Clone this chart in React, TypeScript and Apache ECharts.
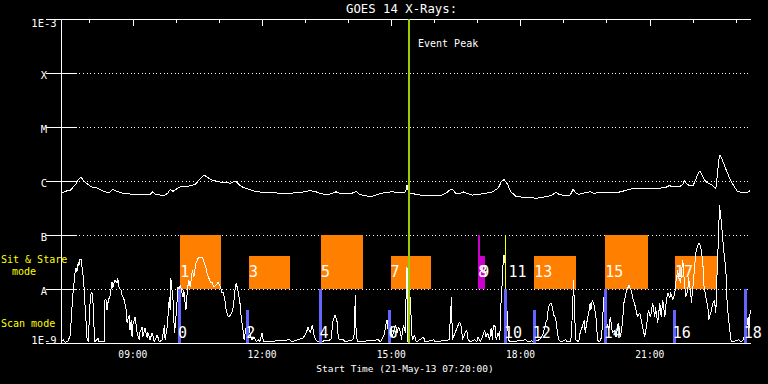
import React, { useEffect, useRef } from 'react';
import * as echarts from 'echarts';

// x values: minutes after the start time 21-May-13 07:20:00
// y values: log10 of the X-ray level (-9 = 1E-9 ... -3 = 1E-3)
const START_CLOCK_MIN = 7 * 60 + 20;
const X_MAX = 961;
const yLevels = [-9, -8, -7, -6, -5, -4, -3];
const yLevelNames = ['1E-9', 'A', 'B', 'C', 'M', 'X', '1E-3'];
const hourTicks = [40, 100, 160, 220, 280, 340, 400, 460, 520, 580, 640, 700, 760, 820, 880, 940];
const majorHourTicks = [100, 280, 460, 640, 820];
const eventPeak = 485;

const goesFlux: [number, number][] = [
  [0, -6.23], [6, -6.19], [13, -6.17], [20, -6.07], [24, -5.98], [28, -5.93], [32, -6.0], [38, -6.07],
  [43, -6.11], [50, -6.13], [56, -6.17], [61, -6.2], [67, -6.22], [71, -6.17], [72, -6.15], [77, -6.19],
  [82, -6.21], [89, -6.24], [96, -6.24], [103, -6.26], [110, -6.25], [117, -6.24], [124, -6.25], [128, -6.2],
  [132, -6.25], [138, -6.26], [145, -6.26], [149, -6.22], [152, -6.16], [156, -6.19], [162, -6.14], [166, -6.11],
  [173, -6.1], [180, -6.09], [187, -6.06], [194, -5.96], [199, -5.89], [205, -5.94], [210, -5.98], [216, -6.0],
  [222, -6.02], [229, -6.03], [236, -6.04], [243, -6.0], [248, -6.07], [254, -6.12], [261, -6.15], [272, -6.2],
  [284, -6.21], [298, -6.22], [312, -6.23], [326, -6.22], [333, -6.22], [340, -6.19], [348, -6.18], [355, -6.2],
  [361, -6.23], [368, -6.25], [375, -6.24], [381, -6.21], [383, -6.2], [388, -6.23], [396, -6.24], [403, -6.23],
  [407, -6.22], [411, -6.19], [415, -6.24], [422, -6.27], [431, -6.29], [439, -6.26], [446, -6.23], [454, -6.21],
  [461, -6.2], [468, -6.21], [475, -6.22], [480, -6.2], [482, -6.07], [484, -6.22], [492, -6.24], [500, -6.26],
  [512, -6.27], [521, -6.27], [531, -6.26], [537, -6.22], [541, -6.17], [545, -6.15], [549, -6.22], [553, -6.24],
  [558, -6.22], [560, -6.2], [565, -6.23], [573, -6.26], [581, -6.25], [591, -6.23], [601, -6.2], [609, -6.13],
  [613, -6.02], [617, -5.97], [622, -6.06], [626, -6.19], [633, -6.28], [643, -6.3], [654, -6.3], [661, -6.32],
  [668, -6.31], [675, -6.29], [682, -6.27], [686, -6.24], [690, -6.21], [694, -6.25], [701, -6.27], [708, -6.27],
  [711, -6.22], [713, -6.15], [717, -6.22], [721, -6.25], [726, -6.23], [732, -6.21], [737, -6.2], [743, -6.23],
  [749, -6.21], [756, -6.21], [763, -6.22], [769, -6.22], [776, -6.21], [782, -6.19], [788, -6.17], [793, -6.15],
  [800, -6.14], [807, -6.13], [814, -6.13], [821, -6.13], [828, -6.13], [835, -6.13], [842, -6.12], [845, -6.1],
  [848, -6.08], [850, -6.11], [856, -6.1], [862, -6.1], [866, -6.06], [868, -5.99], [871, -6.04], [875, -6.09],
  [880, -6.09], [884, -5.98], [887, -5.87], [890, -5.81], [892, -5.87], [896, -5.98], [901, -6.04], [906, -6.07],
  [912, -6.15], [914, -5.91], [916, -5.61], [918, -5.52], [921, -5.61], [926, -5.78], [930, -5.91], [934, -6.02],
  [938, -6.11], [942, -6.19], [947, -6.21], [954, -6.21], [958, -6.2], [960, -6.16],
];

const lowCurve: [number, number][] = [
  [0, -8.99], [3, -8.94], [6, -8.99], [10, -8.96], [13, -8.85], [15, -8.39], [17, -8.02], [20, -7.65],
  [21, -7.61], [22, -7.69], [24, -7.5], [25, -7.57], [26, -7.46], [28, -7.44], [29, -7.56], [31, -7.78],
  [32, -7.96], [33, -8.2], [35, -8.63], [36, -8.89], [38, -8.98], [39, -8.67], [40, -8.33], [42, -8.07],
  [43, -8.06], [45, -8.3], [46, -8.7], [47, -8.98], [52, -8.91], [53, -8.98], [60, -8.98], [61, -8.2],
  [63, -8.2], [64, -8.39], [66, -8.2], [68, -8.15], [71, -7.87], [72, -7.98], [75, -7.83], [78, -7.89],
  [79, -7.8], [81, -7.98], [84, -8.02], [85, -8.11], [88, -8.2], [91, -8.39], [92, -8.63], [95, -8.48],
  [96, -8.76], [98, -8.57], [99, -8.89], [100, -8.67], [103, -8.52], [105, -8.7], [106, -8.81], [109, -8.94],
  [110, -8.8], [113, -8.7], [114, -8.89], [117, -8.72], [120, -8.91], [121, -8.8], [124, -8.94], [127, -8.81],
  [130, -8.98], [134, -8.85], [137, -8.98], [141, -8.94], [144, -8.67], [145, -8.94], [148, -8.7], [151, -8.15],
  [152, -8.39], [153, -7.8], [156, -8.2], [158, -8.81], [159, -8.7], [160, -8.54], [163, -7.96], [164, -8.02],
  [166, -7.93], [167, -7.98], [170, -8.15], [171, -8.02], [174, -8.39], [176, -8.02], [178, -7.83], [180, -7.96],
  [183, -7.65], [185, -7.78], [188, -7.52], [191, -7.43], [194, -7.41], [197, -7.41], [199, -7.5], [202, -7.61],
  [204, -7.74], [206, -7.8], [209, -7.89], [210, -7.87], [213, -7.96], [216, -7.93], [219, -7.87], [222, -7.96],
  [224, -8.06], [226, -8.07], [229, -8.26], [230, -8.39], [233, -8.52], [236, -8.48], [238, -8.43], [240, -8.33],
  [243, -7.93], [244, -7.89], [247, -8.06], [250, -8.33], [251, -8.54], [254, -8.8], [255, -8.94], [258, -8.7],
  [261, -8.61], [263, -8.81], [266, -8.94], [269, -8.89], [272, -8.98], [275, -8.94], [277, -8.98], [280, -8.81],
  [282, -8.98], [319, -8.94], [321, -8.98], [337, -8.91], [342, -8.8], [344, -8.7], [347, -8.81], [350, -8.67],
  [353, -8.89], [355, -8.94], [358, -8.98], [376, -8.94], [379, -8.57], [382, -8.48], [385, -8.63], [386, -8.89],
  [388, -8.94], [393, -8.94], [396, -8.98], [406, -8.94], [408, -8.89], [410, -8.11], [411, -8.81], [413, -8.98],
  [442, -8.94], [445, -8.98], [450, -8.85], [452, -8.7], [454, -8.57], [456, -8.81], [457, -8.54], [460, -8.7],
  [461, -8.89], [466, -8.67], [468, -8.81], [470, -8.7], [473, -8.8], [474, -8.94], [477, -8.67], [480, -8.81],
  [481, -7.61], [482, -7.61], [483, -8.98], [485, -8.76], [487, -8.15], [488, -8.81], [490, -8.94], [492, -8.85],
  [495, -8.98], [505, -8.89], [507, -8.98], [519, -8.94], [521, -8.98], [541, -8.94], [542, -8.57], [544, -8.15],
  [545, -8.94], [555, -8.61], [558, -8.72], [559, -8.94], [563, -8.81], [565, -8.76], [567, -8.94], [570, -8.98],
  [576, -8.94], [579, -8.98], [581, -8.89], [584, -8.98], [588, -8.85], [590, -8.76], [592, -8.89], [594, -8.81],
  [597, -8.94], [598, -8.85], [599, -8.72], [601, -8.94], [602, -8.67], [605, -8.7], [606, -8.94], [609, -8.81],
  [611, -8.94], [613, -8.2], [615, -7.78], [616, -7.43], [617, -7.37], [619, -7.59], [620, -8.15], [622, -8.57],
  [623, -8.94], [626, -8.98], [647, -8.94], [650, -8.98], [655, -8.96], [658, -8.98], [666, -8.94], [669, -8.89],
  [672, -8.81], [675, -8.63], [677, -8.57], [679, -8.33], [682, -8.26], [683, -8.26], [685, -8.39], [686, -8.48],
  [689, -8.54], [691, -8.76], [693, -8.94], [696, -8.98], [703, -8.94], [705, -8.98], [710, -8.98], [712, -8.52],
  [714, -7.83], [715, -8.39], [717, -8.94], [721, -8.98], [723, -8.81], [726, -8.7], [729, -8.57], [730, -8.81],
  [733, -8.57], [735, -8.44], [737, -8.26], [738, -8.39], [740, -8.2], [743, -8.33], [746, -8.63], [747, -8.94],
  [750, -8.98], [753, -8.89], [756, -8.15], [760, -8.63], [763, -8.76], [765, -8.52], [768, -8.81], [771, -8.76],
  [773, -8.89], [776, -8.63], [779, -8.89], [782, -8.63], [784, -8.26], [787, -8.07], [790, -7.96], [791, -7.93],
  [794, -8.02], [797, -8.2], [800, -8.33], [803, -8.52], [806, -8.44], [809, -8.63], [811, -8.76], [813, -8.89],
  [816, -8.63], [818, -8.39], [821, -8.52], [824, -8.26], [827, -8.52], [828, -8.33], [831, -8.63], [834, -8.26],
  [836, -8.52], [838, -8.2], [841, -8.52], [842, -8.33], [845, -8.07], [848, -8.17], [849, -8.06], [852, -8.2],
  [855, -8.07], [856, -7.89], [859, -7.65], [860, -7.78], [863, -7.89], [864, -7.7], [866, -7.46], [868, -7.83],
  [870, -8.15], [873, -8.02], [874, -7.78], [877, -8.07], [878, -8.26], [881, -7.83], [884, -7.33], [887, -7.19],
  [889, -7.15], [891, -7.22], [894, -7.52], [895, -7.89], [898, -8.15], [901, -8.33], [902, -8.57], [905, -8.44],
  [908, -8.26], [910, -8.2], [912, -8.44], [913, -8.07], [914, -7.59], [916, -6.96], [917, -6.44], [919, -6.67],
  [921, -6.96], [923, -7.28], [926, -7.65], [927, -8.02], [928, -8.33], [931, -8.7], [933, -8.94], [934, -8.98],
  [944, -8.94], [947, -8.98], [950, -8.94], [954, -8.81], [957, -8.52], [958, -8.76], [960, -8.39],
];

// Sit & Stare pointings (orange)
const sitStareLabels = ['1', '3', '5', '7', '13', '15', '17'];
const sitStareStart = [166, 262, 362, 459, 659, 758, 855];
const sitStareEnd = [223, 319, 420, 516, 717, 817, 913];
const sitStareTop = [-7, -7.39, -7, -7.39, -7.39, -7, -7.39];

// Scan mode rasters (blue)
const scanLabels = ['0', '2', '4', '6', '10', '12', '14', '16', '18'];
const scanStart = [163, 258, 360, 456, 617, 657, 756, 852, 951];
const scanEnd = [167, 262, 363, 459, 621, 661, 760, 856, 956];
const scanTop = [-8, -8.39, -8, -8.39, -8, -8.39, -8, -8.39, -8];

// short magenta pointings
const magentaLabels = ['8', '9'];
const magentaStart = [581, 581];
const magentaLabelAt = [581, 584];
const magentaEnd = [584, 590];
const magentaTop = [-7, -7.39];

// zero-length sit & stare marker (yellow)
const markerLabels = ['11'];
const markerAt = [619];

const SIT_LABEL_LEVEL = -7.68;
const SCAN_LABEL_LEVEL = -8.81;
const BOX_BOTTOM = -8;
const SCAN_BOTTOM = -9;

const MONO = 'DejaVu Sans Mono';

function clock(m: number): string {
  const t = START_CLOCK_MIN + m;
  const h = Math.floor(t / 60);
  const mm = Math.round(t % 60);
  return String(h).padStart(2, '0') + ':' + String(mm).padStart(2, '0');
}

export default function App() {
  const ref = useRef<HTMLDivElement>(null);

  useEffect(() => {
    if (!ref.current) return;
    const chart = echarts.init(ref.current, null, { renderer: 'svg' });

    const boxSeries = (
      name: string,
      starts: number[],
      ends: number[],
      bottoms: number[],
      tops: number[],
      labels: string[],
      labelAt: number[],
      labelLevel: number,
      color: string,
      z: number
    ) => ({
      type: 'custom',
      name,
      xAxisIndex: 0,
      yAxisIndex: 0,
      z,
      clip: false,
      data: starts.map((s, i) => [s, ends[i], bottoms[i], tops[i]]),
      renderItem: (params: any, api: any) => {
        const i = params.dataIndex;
        const p0 = api.coord([api.value(0), api.value(2)]);
        const p1 = api.coord([api.value(1), api.value(3)]);
        const lp = api.coord([labelAt[i], labelLevel]);
        return {
          type: 'group',
          children: [
            {
              type: 'rect',
              shape: { x: p0[0], y: p1[1], width: p1[0] - p0[0], height: p0[1] - p1[1] },
              style: { fill: color },
            },
            {
              type: 'text',
              x: lp[0],
              y: lp[1],
              z2: 10,
              style: {
                text: labels[i],
                fill: '#ffffff',
                fontFamily: MONO,
                fontSize: 15,
                verticalAlign: 'middle',
                align: 'left',
              },
            },
          ],
        };
      },
    });

    const option: any = {
      animation: false,
      backgroundColor: '#000000',
      grid: { left: 61, right: 17, top: 19, bottom: 41 },
      xAxis: [
        {
          type: 'value',
          min: 0,
          max: X_MAX,
          position: 'bottom',
          axisLine: { show: true, lineStyle: { color: '#ffffff', width: 1 } },
          axisTick: { show: false },
          splitLine: { show: false },
          axisLabel: {
            show: true,
            customValues: majorHourTicks,
            formatter: (v: number) => clock(v),
            color: '#ffffff',
            fontFamily: MONO,
            fontSize: 9.6,
            margin: 6,
          },
        },
        {
          type: 'value',
          min: 0,
          max: X_MAX,
          position: 'top',
          axisLine: { show: true, lineStyle: { color: '#ffffff', width: 1 } },
          axisTick: {
            show: true,
            inside: true,
            length: 3.5,
            customValues: hourTicks,
            lineStyle: { color: '#ffffff', width: 1 },
          },
          axisLabel: { show: false },
          splitLine: { show: false },
        },
        {
          type: 'value',
          min: 0,
          max: X_MAX,
          position: 'top',
          axisLine: { show: false },
          axisTick: {
            show: true,
            inside: true,
            length: 6.5,
            customValues: majorHourTicks,
            lineStyle: { color: '#ffffff', width: 1 },
          },
          axisLabel: { show: false },
          splitLine: { show: false },
        },
      ],
      yAxis: [
        {
          type: 'value',
          min: -9,
          max: -3,
          interval: 1,
          position: 'left',
          axisLine: { show: true, lineStyle: { color: '#ffffff', width: 1 } },
          axisTick: { show: true, inside: true, length: 15, lineStyle: { color: '#ffffff', width: 1 } },
          splitLine: {
            show: true,
            lineStyle: { color: '#ffffff', width: 1, type: [1, 2.67] },
          },
          axisLabel: {
            show: true,
            align: 'center',
            margin: 17,
            color: '#ffffff',
            fontFamily: MONO,
            fontSize: 10.5,
            formatter: (v: number) => {
              const idx = yLevels.indexOf(Math.round(v));
              const name = idx >= 0 ? yLevelNames[idx] : '';
              if (Math.round(v) === -3) return '{t|' + name + '}';
              if (Math.round(v) === -9) return '{b|' + name + '}';
              return '{n|' + name + '}';
            },
            rich: {
              t: { color: '#ffffff', fontFamily: MONO, fontSize: 10.5, padding: [8, 0, 0, 0] },
              b: { color: '#ffffff', fontFamily: MONO, fontSize: 10.5, padding: [0, 0, 6, 0] },
              n: { color: '#ffffff', fontFamily: MONO, fontSize: 10.5, padding: [3, 0, 0, 0] },
            },
          },
        },
        {
          type: 'value',
          min: -9,
          max: -3,
          interval: 1,
          position: 'right',
          axisLine: { show: true, lineStyle: { color: '#ffffff', width: 1 } },
          axisTick: { show: true, inside: true, length: 15, lineStyle: { color: '#ffffff', width: 1 } },
          splitLine: { show: false },
          axisLabel: { show: false },
        },
      ],
      series: [
        boxSeries('Sit & Stare', sitStareStart, sitStareEnd, sitStareStart.map(() => BOX_BOTTOM), sitStareTop,
          sitStareLabels, sitStareStart, SIT_LABEL_LEVEL, '#ff8000', 2),
        boxSeries('Slew', magentaStart, magentaEnd, magentaStart.map(() => BOX_BOTTOM), magentaTop,
          magentaLabels, magentaLabelAt, SIT_LABEL_LEVEL, '#cc00cc', 2),
        {
          type: 'line',
          name: 'GOES flux',
          data: goesFlux,
          showSymbol: false,
          symbol: 'none',
          z: 4,
          lineStyle: { color: '#ffffff', width: 1 },
        },
        {
          type: 'line',
          name: 'Low',
          data: lowCurve,
          showSymbol: false,
          symbol: 'none',
          z: 4,
          lineStyle: { color: '#ffffff', width: 1 },
        },
        boxSeries('Scan', scanStart, scanEnd, scanStart.map(() => SCAN_BOTTOM), scanTop,
          scanLabels, scanStart, SCAN_LABEL_LEVEL, '#6464ff', 5),
        {
          type: 'custom',
          name: 'Marker',
          z: 5,
          clip: false,
          data: markerAt.map((m) => [m]),
          renderItem: (params: any, api: any) => {
            const i = params.dataIndex;
            const pb = api.coord([api.value(0), BOX_BOTTOM]);
            const pt = api.coord([api.value(0), -7]);
            const pl = api.coord([api.value(0), SIT_LABEL_LEVEL]);
            return {
              type: 'group',
              children: [
                {
                  type: 'line',
                  shape: { x1: pb[0], y1: pb[1], x2: pt[0], y2: pt[1] },
                  style: { stroke: '#ffff00', lineWidth: 1 },
                },
                {
                  type: 'text',
                  x: pl[0] + 3,
                  y: pl[1],
                  style: {
                    text: markerLabels[i],
                    fill: '#ffffff',
                    fontFamily: MONO,
                    fontSize: 15,
                    verticalAlign: 'middle',
                  },
                },
              ],
            };
          },
        },
        {
          type: 'line',
          name: 'Event Peak',
          data: [],
          z: 8,
          markLine: {
            silent: true,
            symbol: 'none',
            label: { show: false },
            lineStyle: { color: '#9acd00', width: 2, type: 'solid' },
            data: [{ xAxis: eventPeak }],
          },
        },
      ],
      graphic: [
        {
          type: 'text',
          left: 346,
          top: 3,
          style: { text: 'GOES 14 X-Rays:', fill: '#ffffff', fontFamily: MONO, fontSize: 12.3 },
        },
        {
          type: 'text',
          x: 418,
          y: 43,
          style: { text: 'Event Peak', fill: '#ffffff', fontFamily: MONO, fontSize: 10, verticalAlign: 'middle' },
        },
        {
          type: 'text',
          x: 405,
          y: 368,
          style: {
            text: 'Start Time (21-May-13 07:20:00)',
            fill: '#ffffff',
            fontFamily: MONO,
            fontSize: 9.5,
            align: 'center',
            verticalAlign: 'middle',
          },
        },
        {
          type: 'text',
          x: 1,
          y: 259,
          style: { text: 'Sit & Stare', fill: '#ffff00', fontFamily: MONO, fontSize: 10, verticalAlign: 'middle' },
        },
        {
          type: 'text',
          x: 12,
          y: 271,
          style: { text: 'mode', fill: '#ffff00', fontFamily: MONO, fontSize: 10, verticalAlign: 'middle' },
        },
        {
          type: 'text',
          x: 1,
          y: 323.5,
          style: { text: 'Scan mode', fill: '#ffff00', fontFamily: MONO, fontSize: 10, verticalAlign: 'middle' },
        },
      ],
    };

    chart.setOption(option);
    return () => {
      chart.dispose();
    };
  }, []);

  return (
    <div
      style={{
        position: 'fixed',
        left: 0,
        top: 0,
        width: 768,
        height: 384,
        background: '#000000',
        shapeRendering: 'crispEdges',
      } as any}
    >
      <div ref={ref} style={{ width: 768, height: 384 }} />
    </div>
  );
}
